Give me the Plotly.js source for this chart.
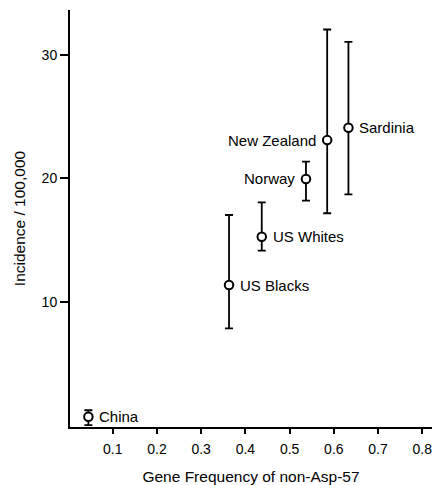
<!DOCTYPE html>
<html>
<head>
<meta charset="utf-8">
<script src="https://cdn.plot.ly/plotly-3.0.1.min.js"></script>
<style>html,body{margin:0;padding:0;background:#fff;}#chart{width:433px;height:485px;}</style>
</head>
<body>
<div id="chart"></div>
<script>
const populations = ["China", "US Blacks", "US Whites", "Norway", "New Zealand", "Sardinia"];
const geneFrequency = [0.045, 0.363, 0.437, 0.537, 0.585, 0.633];
const incidence = [0.67, 11.35, 15.27, 19.95, 23.1, 24.1];
const errorUpper = [1.2, 17.03, 18.06, 21.35, 32.07, 31.06];
const errorLower = [0.0, 7.84, 14.14, 18.19, 17.17, 18.7];
const labelSide = ["right", "right", "right", "left", "left", "right"];
const xTicks = [0.1, 0.2, 0.3, 0.4, 0.5, 0.6, 0.7, 0.8];
const yTicks = [10, 20, 30];

const errPlus = incidence.map((v, i) => errorUpper[i] - v);
const errMinus = incidence.map((v, i) => v - errorLower[i]);

const font = {family: "Liberation Sans, Arial, sans-serif", color: "#000"};

const trace = {
  type: "scatter",
  mode: "markers",
  x: geneFrequency,
  y: incidence,
  error_y: {type: "data", symmetric: false, array: errPlus, arrayminus: errMinus, color: "#000", thickness: 1.8, width: 4},
  marker: {symbol: "circle", size: 8.5, color: "#fff", line: {color: "#000", width: 2}},
  hoverinfo: "skip",
  showlegend: false
};

const annotations = populations.map((p, i) => ({
  x: geneFrequency[i], y: incidence[i], xref: "x", yref: "y",
  text: p, showarrow: false,
  xanchor: labelSide[i] === "right" ? "left" : "right",
  xshift: labelSide[i] === "right" ? 9 : -9,
  font: Object.assign({size: 15}, font)
}));

const layout = {
  width: 433, height: 485,
  margin: {l: 70, r: 1, t: 10, b: 58},
  paper_bgcolor: "#fff", plot_bgcolor: "#fff",
  font: Object.assign({size: 14}, font),
  xaxis: {
    range: [0.0034, 0.822], tickvals: xTicks, ticktext: xTicks.map(v => v.toFixed(1)),
    showline: true, linecolor: "#000", linewidth: 2, showgrid: false, zeroline: false,
    ticks: "outside", ticklen: 5, tickwidth: 2, tickcolor: "#000",
    ticklabelstandoff: 3,
    tickfont: Object.assign({size: 14}, font),
    title: {text: "Gene Frequency of non-Asp-57", font: Object.assign({size: 15.5}, font), standoff: 16}
  },
  yaxis: {
    range: [-0.16, 33.65], tickvals: yTicks,
    showline: true, linecolor: "#000", linewidth: 2, showgrid: false, zeroline: false,
    ticks: "outside", ticklen: 8, tickwidth: 2, tickcolor: "#000",
    tickfont: Object.assign({size: 14}, font),
    title: {text: "Incidence / 100,000", font: Object.assign({size: 15.5}, font), standoff: 12}
  },
  annotations: annotations
};

Plotly.newPlot("chart", [trace], layout, {displayModeBar: false, staticPlot: true});
</script>
</body>
</html>
